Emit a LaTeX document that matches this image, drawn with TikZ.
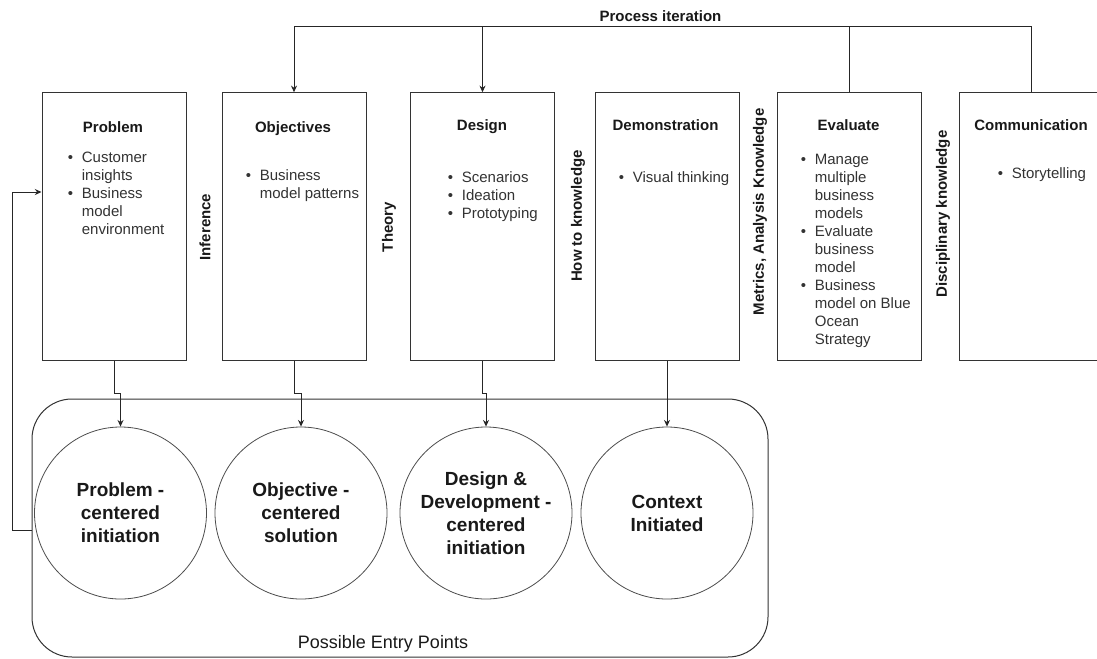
\documentclass[tikz,border=0pt]{standalone}
\usepackage{fontspec}
\setmainfont{Liberation Sans}
\usetikzlibrary{arrows.meta}
\definecolor{linegray}{HTML}{333333}
\definecolor{txtgray}{HTML}{333333}
\definecolor{circgray}{HTML}{4D4D4D}
\newcommand\bul{\makebox[10.5pt][l]{\textbullet}}
\newcommand\indt{\hspace*{10.5pt}}
\tikzset{
  box/.style={draw=linegray, line width=0.75pt, minimum width=108pt, minimum height=201pt, inner sep=0pt},
  ttl/.style={anchor=base, inner sep=0pt, font=\bfseries\fontsize{11.25}{13.5}\selectfont, text=black!90},
  blist/.style={anchor=north west, inner sep=0pt, align=left, font=\fontsize{11.25}{13.5}\selectfont, text=txtgray},
  side/.style={rotate=90, inner sep=0pt, font=\bfseries\fontsize{11.25}{13.5}\selectfont, text=black!90},
  ent/.style={circle, draw=circgray, line width=0.6pt, fill=white, minimum size=129pt, inner sep=0pt, align=center, font=\bfseries\fontsize{14.25}{17.25}\selectfont, text=black!90},
  conn/.style={draw=black!85, line width=0.75pt},
  arr/.style={conn, -{Stealth[length=5pt,width=4.5pt]}}
}
\begin{document}
\begin{tikzpicture}[x=0.75pt, y=-0.75pt]
\useasboundingbox (0,0) rectangle (1097,658);
\clip (0,0) rectangle (1097,658);
\fill[white] (0,0) rectangle (1097,658);

% boxes
\node[box] (prob) at (114,226.75) {};
\node[box] (obj) at (294,226.75) {};
\node[box] (des) at (482.5,226.75) {};
\node[box] (demo) at (667.5,226.75) {};
\node[box] (eval) at (849,226.75) {};
\node[box] (comm) at (1031.5,226.75) {};

% titles
\node[ttl] (tprob) at (113,132.2) {Problem};
\node[ttl] (tobj) at (293,132.2) {Objectives};
\node[ttl] (tdes) at (482,130.4) {Design};
\node[ttl] (tdemo) at (665.5,130.4) {Demonstration};
\node[ttl] (teval) at (848.5,130.4) {Evaluate};
\node[ttl] (tcomm) at (1031,130.4) {Communication};

% lists
\node[blist] (lprob) at (67.6,149.5) {\strut\bul Customer\\ \indt insights\\ \bul Business\\ \indt model\\ \indt environment};
\node[blist] (lobj) at (245.6,167.5) {\strut\bul Business\\ \indt model patterns};
\node[blist] (ldes) at (447.6,169.5) {\strut\bul Scenarios\\ \bul Ideation\\ \bul Prototyping};
\node[blist] (ldemo) at (618.6,169.5) {\strut\bul Visual thinking};
\node[blist] (leval) at (800.6,151.5) {\strut\bul Manage\\ \indt multiple\\ \indt business\\ \indt models\\ \bul Evaluate\\ \indt business\\ \indt model\\ \bul Business\\ \indt model on Blue\\ \indt Ocean\\ \indt Strategy};
\node[blist] (lcomm) at (997.6,165.5) {\strut\bul Storytelling};

% side labels
\node[side] (sinf) at (205,227) {Inference};
\node[side] (sthe) at (389,227) {Theory};
\node[side] (show) at (578,216) {How to knowledge};
\node[side] (smet) at (760,212) {Metrics, Analysis Knowledge};
\node[side] (sdis) at (943,214) {Disciplinary knowledge};

% container
\node[draw=linegray, line width=0.75pt, rounded corners=30pt, minimum width=552pt, minimum height=193.5pt, inner sep=0pt] (cont) at (400,528) {};
\node[anchor=base, inner sep=0pt, font=\fontsize{13.5}{16}\selectfont, text=black!90] (lcont) at (383,648.5) {Possible Entry Points};

% circles
\node[ent] (c1) at (120.5,513) {Problem -\\centered\\initiation};
\node[ent] (c2) at (301,513) {Objective -\\centered\\solution};
\node[ent] (c3) at (486,513) {Design \&\\Development -\\centered\\initiation};
\node[ent] (c4) at (667,513) {Context\\Initiated};

% box -> circle
\draw[arr] (prob.south) -- ++(0,32) -| (c1.north);
\draw[arr] (obj.south) -- ++(0,32) -| (c2.north);
\draw[arr] (des.south) -- ++(0,32) -| (c3.north);
\draw[arr] (demo.south -| c4.north) -- (c4.north);

% process iteration
\coordinate (top) at (0,26.5);
\node[ttl] (tpi) at (660.5,21) {Process iteration};
\draw[arr] (comm.north) -- (comm.north |- top) -- (obj.north |- top) -- (obj.north);
\draw[conn] (eval.north) -- (eval.north |- top);
\draw[arr] (des.north |- top) -- (des.north);

% feedback
\coordinate (fb) at (12,530);
\draw[arr] (cont.west |- fb) -- (fb) |- (prob.west |- 0,192);
\end{tikzpicture}
\end{document}
